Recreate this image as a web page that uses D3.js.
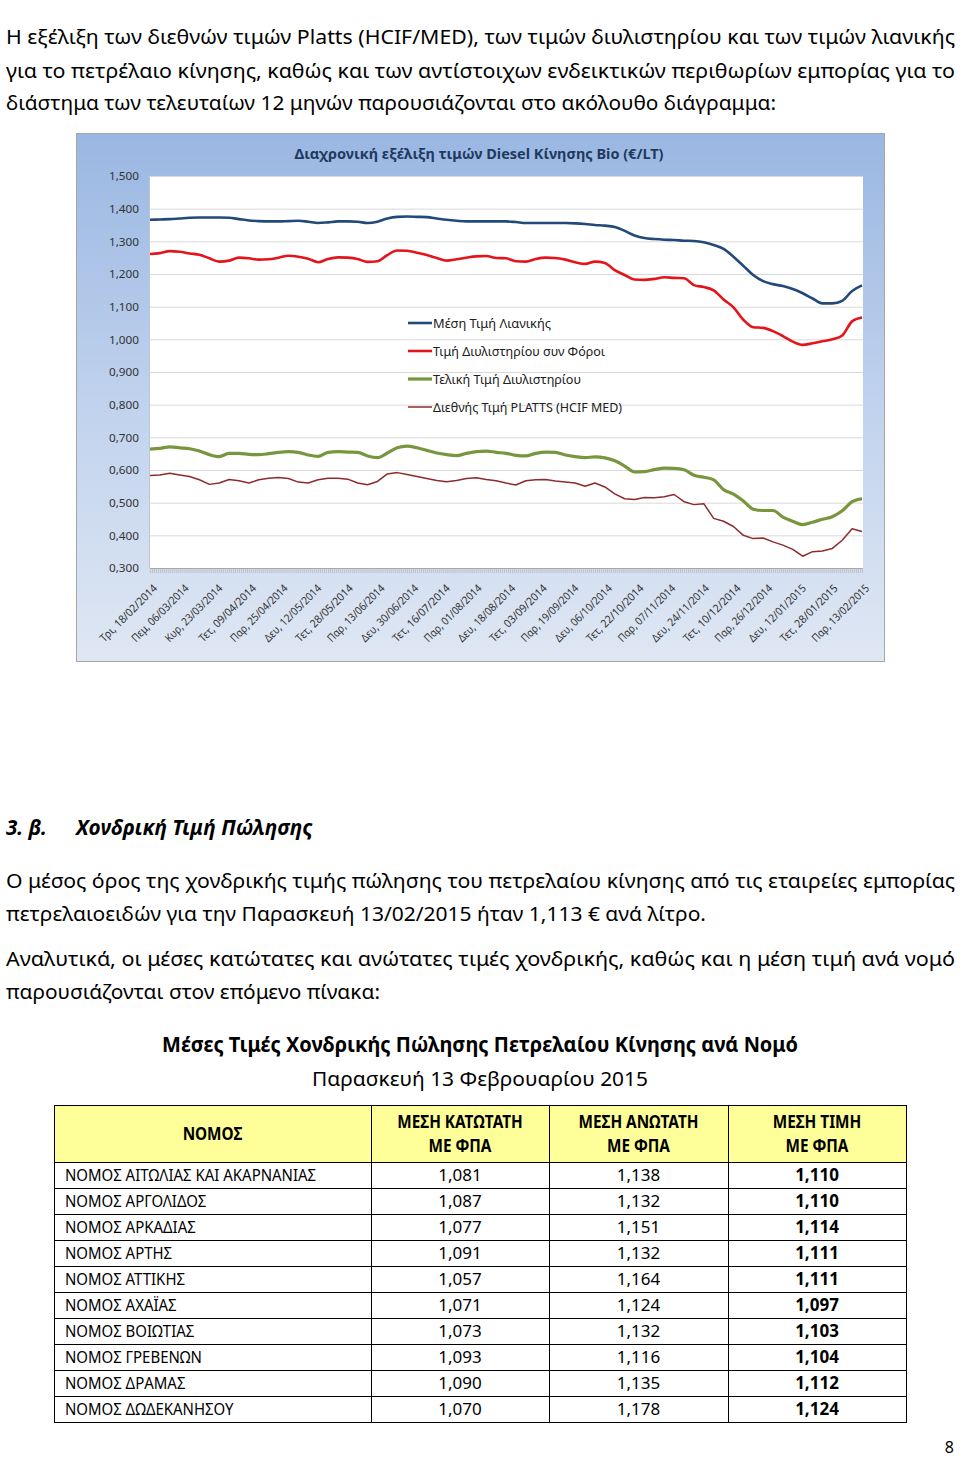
<!DOCTYPE html>
<html><head><meta charset="utf-8">
<script src="https://cdn.jsdelivr.net/npm/d3@7"></script>
<style>body{margin:0;background:#fff} svg{display:block}</style>
</head><body>
<svg id="page" width="960" height="1459"></svg>
<script>
// ---------- DATA ----------
const sampleDates = ["2014-02-18","2014-02-23","2014-02-28","2014-03-05","2014-03-10","2014-03-15","2014-03-20","2014-03-25","2014-03-30","2014-04-04","2014-04-09","2014-04-14","2014-04-19","2014-04-24","2014-04-29","2014-05-04","2014-05-09","2014-05-14","2014-05-19","2014-05-24","2014-05-29","2014-06-03","2014-06-08","2014-06-13","2014-06-18","2014-06-23","2014-06-28","2014-07-03","2014-07-08","2014-07-13","2014-07-18","2014-07-23","2014-07-28","2014-08-02","2014-08-07","2014-08-12","2014-08-17","2014-08-22","2014-08-27","2014-09-01","2014-09-06","2014-09-11","2014-09-16","2014-09-21","2014-09-26","2014-10-01","2014-10-06","2014-10-11","2014-10-16","2014-10-21","2014-10-26","2014-10-31","2014-11-05","2014-11-10","2014-11-15","2014-11-20","2014-11-25","2014-11-30","2014-12-05","2014-12-10","2014-12-15","2014-12-20","2014-12-25","2014-12-30","2015-01-04","2015-01-09","2015-01-14","2015-01-19","2015-01-24","2015-01-29","2015-02-03","2015-02-08","2015-02-13"];

const retailPrice = [1.366,1.367,1.368,1.370,1.372,1.373,1.373,1.373,1.372,1.368,1.364,1.362,1.361,1.361,1.362,1.363,1.360,1.356,1.358,1.361,1.361,1.360,1.356,1.360,1.370,1.375,1.376,1.375,1.374,1.370,1.366,1.363,1.361,1.361,1.361,1.361,1.361,1.359,1.356,1.356,1.356,1.356,1.356,1.355,1.353,1.350,1.348,1.344,1.332,1.318,1.310,1.307,1.305,1.304,1.302,1.301,1.297,1.289,1.277,1.253,1.225,1.197,1.178,1.169,1.163,1.154,1.141,1.125,1.110,1.110,1.118,1.148,1.165];

const refineryWithTax = [1.261,1.264,1.270,1.268,1.263,1.259,1.248,1.238,1.241,1.250,1.248,1.244,1.245,1.250,1.256,1.253,1.247,1.236,1.246,1.251,1.250,1.246,1.237,1.239,1.258,1.272,1.271,1.265,1.258,1.249,1.241,1.245,1.250,1.254,1.255,1.249,1.248,1.239,1.238,1.246,1.250,1.249,1.244,1.236,1.231,1.238,1.234,1.212,1.197,1.183,1.182,1.185,1.190,1.188,1.187,1.166,1.160,1.150,1.122,1.098,1.060,1.037,1.035,1.025,1.010,0.993,0.983,0.988,0.994,1.000,1.012,1.055,1.067];

const refineryFinal = [0.664,0.666,0.671,0.668,0.665,0.658,0.647,0.641,0.651,0.651,0.648,0.647,0.650,0.654,0.656,0.654,0.646,0.642,0.654,0.656,0.655,0.654,0.643,0.638,0.652,0.668,0.673,0.668,0.660,0.652,0.647,0.644,0.651,0.656,0.658,0.654,0.651,0.645,0.643,0.651,0.655,0.654,0.646,0.641,0.638,0.640,0.637,0.628,0.612,0.594,0.595,0.601,0.606,0.605,0.601,0.584,0.578,0.570,0.540,0.526,0.505,0.480,0.476,0.476,0.456,0.443,0.433,0.440,0.449,0.457,0.475,0.503,0.512];

const plattsPrice = [0.583,0.585,0.590,0.585,0.580,0.570,0.556,0.560,0.571,0.567,0.560,0.570,0.575,0.577,0.574,0.563,0.560,0.570,0.575,0.575,0.572,0.560,0.555,0.565,0.588,0.592,0.586,0.580,0.574,0.568,0.564,0.568,0.574,0.576,0.571,0.567,0.560,0.554,0.567,0.570,0.571,0.566,0.563,0.560,0.550,0.560,0.548,0.527,0.512,0.510,0.516,0.515,0.518,0.525,0.503,0.494,0.497,0.452,0.443,0.427,0.400,0.390,0.392,0.380,0.370,0.357,0.336,0.350,0.352,0.360,0.385,0.420,0.412];

const seriesNames = ["Μέση Τιμή Λιανικής","Τιμή Διυλιστηρίου συν Φόροι","Τελική Τιμή Διυλιστηρίου","Διεθνής Τιμή PLATTS (HCIF MED)"];
const yTickValues = [0.3,0.4,0.5,0.6,0.7,0.8,0.9,1.0,1.1,1.2,1.3,1.4,1.5];
const xTickLabels = ["Τρι, 18/02/2014","Πεμ, 06/03/2014","Κυρ, 23/03/2014","Τετ, 09/04/2014","Παρ, 25/04/2014","Δευ, 12/05/2014","Τετ, 28/05/2014","Παρ, 13/06/2014","Δευ, 30/06/2014","Τετ, 16/07/2014","Παρ, 01/08/2014","Δευ, 18/08/2014","Τετ, 03/09/2014","Παρ, 19/09/2014","Δευ, 06/10/2014","Τετ, 22/10/2014","Παρ, 07/11/2014","Δευ, 24/11/2014","Τετ, 10/12/2014","Παρ, 26/12/2014","Δευ, 12/01/2015","Τετ, 28/01/2015","Παρ, 13/02/2015"];

const prefectures = ["ΝΟΜΟΣ ΑΙΤΩΛΙΑΣ ΚΑΙ ΑΚΑΡΝΑΝΙΑΣ","ΝΟΜΟΣ ΑΡΓΟΛΙΔΟΣ","ΝΟΜΟΣ ΑΡΚΑΔΙΑΣ","ΝΟΜΟΣ ΑΡΤΗΣ","ΝΟΜΟΣ ΑΤΤΙΚΗΣ","ΝΟΜΟΣ ΑΧΑΪΑΣ","ΝΟΜΟΣ ΒΟΙΩΤΙΑΣ","ΝΟΜΟΣ ΓΡΕΒΕΝΩΝ","ΝΟΜΟΣ ΔΡΑΜΑΣ","ΝΟΜΟΣ ΔΩΔΕΚΑΝΗΣΟΥ"];
const minPrices = [1.081,1.087,1.077,1.091,1.057,1.071,1.073,1.093,1.090,1.070];
const maxPrices = [1.138,1.132,1.151,1.132,1.164,1.124,1.132,1.116,1.135,1.178];
const avgPrices = [1.110,1.110,1.114,1.111,1.111,1.097,1.103,1.104,1.112,1.124];
const tableHeaders = [["ΝΟΜΟΣ"],["ΜΕΣΗ ΚΑΤΩΤΑΤΗ","ΜΕ ΦΠΑ"],["ΜΕΣΗ ΑΝΩΤΑΤΗ","ΜΕ ΦΠΑ"],["ΜΕΣΗ ΤΙΜΗ","ΜΕ ΦΠΑ"]];

// ---------- PAGE ----------
const FONT = "'Noto Sans', 'Open Sans', sans-serif";
const svg = d3.select("#page");
svg.append("rect").attr("width",960).attr("height",1459).attr("fill","#fff");

function txt(parent, s, x, y, opts={}) {
  const t = parent.append("text").attr("x",x).attr("y",y).text(s)
    .attr("font-family",FONT).attr("font-size",opts.size||19)
    .attr("fill",opts.fill||"#000");
  if (opts.weight) t.attr("font-weight",opts.weight);
  if (opts.style) t.attr("font-style",opts.style);
  if (opts.anchor) t.attr("text-anchor",opts.anchor);
  if (opts.width) t.attr("textLength",opts.width).attr("lengthAdjust","spacingAndGlyphs");
  else if (opts.condense) {
    const w = t.node().getComputedTextLength();
    t.attr("textLength",w*opts.condense).attr("lengthAdjust","spacingAndGlyphs");
  }
  return t;
}

// Intro paragraph
txt(svg,"Η εξέλιξη των διεθνών τιμών Platts (HCIF/MED), των τιμών διυλιστηρίου και των τιμών λιανικής",6,44,{size:19.5,width:949});
txt(svg,"για το πετρέλαιο κίνησης, καθώς και των αντίστοιχων ενδεικτικών περιθωρίων εμπορίας για το",6,78,{size:19.5,width:949});
txt(svg,"διάστημα των τελευταίων 12 μηνών παρουσιάζονται στο ακόλουθο διάγραμμα:",6,110,{size:19.5,width:770});

// ---------- CHART ----------
const box = {x:76,y:133,w:808,h:528};
const defs = svg.append("defs");
const grad = defs.append("linearGradient").attr("id","bg").attr("x1",0).attr("y1",0).attr("x2",0).attr("y2",1);
grad.append("stop").attr("offset","0%").attr("stop-color","#9ab7e2");
grad.append("stop").attr("offset","55%").attr("stop-color","#c3d4ee");
grad.append("stop").attr("offset","100%").attr("stop-color","#dfe7f3");
svg.append("rect").attr("x",box.x+0.5).attr("y",box.y+0.5).attr("width",box.w).attr("height",box.h)
  .attr("fill","url(#bg)").attr("stroke","#a5a5a5").attr("stroke-width",1);

const plot = {l:149,r:863,t:176,b:568};
svg.append("rect").attr("x",plot.l).attr("y",plot.t).attr("width",plot.r-plot.l).attr("height",plot.b-plot.t).attr("fill","#fff");

const parse = d3.timeParse("%Y-%m-%d");
const dts = sampleDates.map(parse);
const x = d3.scaleTime().domain([dts[0], dts[dts.length-1]]).range([150,862]);
const y = d3.scaleLinear().domain([0.3,1.5]).range([plot.b, plot.t]);
const fmt = v => d3.format(".3f")(v).replace(".",",");

// gridlines
svg.append("g").selectAll("line").data(yTickValues.filter(v=>v>0.3)).join("line")
  .attr("x1",plot.l).attr("x2",plot.r).attr("y1",d=>y(d)+0.5).attr("y2",d=>y(d)+0.5)
  .attr("stroke","#d9d9d9").attr("stroke-width",1);

// y axis labels
const yAxis = d3.axisLeft(y).tickValues(yTickValues).tickFormat(fmt).tickSize(0).tickPadding(10);
const yg = svg.append("g").attr("transform",`translate(${plot.l},0)`).call(yAxis);
yg.select(".domain").attr("stroke","#b9c7dc");
yg.selectAll("text").attr("font-family",FONT).attr("font-size",11.5).attr("fill","#333")
  .attr("textLength",30).attr("lengthAdjust","spacingAndGlyphs");

// x axis: daily tick marks
const xAxis = d3.axisBottom(x).ticks(d3.timeDay.every(1)).tickFormat("").tickSizeInner(5).tickSizeOuter(0);
const xg = svg.append("g").attr("transform",`translate(0,${plot.b})`).call(xAxis);
xg.select(".domain").attr("stroke","#a6a6a6");
xg.selectAll(".tick line").attr("stroke","#b0b0b0").attr("stroke-width",0.6);

// x labels
const lblParse = d3.timeParse("%d/%m/%Y");
svg.append("g").selectAll("text").data(xTickLabels).join("text")
  .attr("transform",d=>`translate(${x(lblParse(d.split(", ")[1]))+8},${plot.b+21}) rotate(-45)`)
  .attr("text-anchor","end").attr("font-family",FONT).attr("font-size",11).attr("fill","#333")
  .attr("textLength",76).attr("lengthAdjust","spacingAndGlyphs")
  .text(d=>d);

// lines
const series = [
  {name:seriesNames[0], values:retailPrice, color:"#22497a", w:2.6, curve:d3.curveMonotoneX},
  {name:seriesNames[1], values:refineryWithTax, color:"#e3151b", w:2.6, curve:d3.curveMonotoneX},
  {name:seriesNames[2], values:refineryFinal, color:"#77963d", w:3.2, curve:d3.curveMonotoneX},
  {name:seriesNames[3], values:plattsPrice, color:"#8e2b2e", w:1.5, curve:d3.curveLinear}
];
series.forEach(s=>{
  const line = d3.line().x((d,i)=>x(dts[i])).y(d=>y(d)).curve(s.curve);
  svg.append("path").datum(s.values).attr("d",line).attr("fill","none")
    .attr("stroke",s.color).attr("stroke-width",s.w).attr("stroke-linejoin","round");
});

// legend
const legendY = [323,351,379,407];
const legendW = [118,172,148,189];
series.forEach((s,i)=>{
  svg.append("line").attr("x1",408).attr("x2",432).attr("y1",legendY[i]).attr("y2",legendY[i])
    .attr("stroke",s.color).attr("stroke-width",s.w);
  txt(svg,s.name,433,legendY[i]+4.5,{size:12.5,fill:"#202020",width:legendW[i]});
});

// title
txt(svg,"Διαχρονική εξέλιξη τιμών Diesel Κίνησης Bio (€/LT)",479,159,{size:15,weight:"bold",fill:"#1f3a60",anchor:"middle",width:369});

// ---------- SECTION 3.β ----------
txt(svg,"3. β.",6,835,{size:20.5,weight:"bold",style:"italic",width:41});
txt(svg,"Χονδρική Τιμή Πώλησης",76,835,{size:20.5,weight:"bold",style:"italic",width:237});

txt(svg,"Ο μέσος όρος της χονδρικής τιμής πώλησης του πετρελαίου κίνησης από τις εταιρείες εμπορίας",6,888,{size:19.5,width:949});
txt(svg,"πετρελαιοειδών για την Παρασκευή 13/02/2015 ήταν 1,113 € ανά λίτρο.",6,921,{size:19.5,width:700});
txt(svg,"Αναλυτικά, οι μέσες κατώτατες και ανώτατες τιμές χονδρικής, καθώς και η μέση τιμή ανά νομό",6,966,{size:19.5,width:949});
txt(svg,"παρουσιάζονται στον επόμενο πίνακα:",6,999,{size:19.5,width:374});

txt(svg,"Μέσες Τιμές Χονδρικής Πώλησης Πετρελαίου Κίνησης ανά Νομό",480,1052,{size:20.5,weight:"bold",anchor:"middle",width:636});
txt(svg,"Παρασκευή 13 Φεβρουαρίου 2015",480,1086,{size:20.5,anchor:"middle",width:336});

// ---------- TABLE ----------
const colX = [54,371,549,728,906];
const headTop = 1105, headBot = 1162, rowH = 26;
const tb = svg.append("g");
tb.append("rect").attr("x",colX[0]).attr("y",headTop).attr("width",colX[4]-colX[0]).attr("height",headBot-headTop).attr("fill","#ffff99");
const tableBot = headBot + rowH*prefectures.length;
const hLines = [headTop, headBot].concat(prefectures.map((p,i)=>headBot+rowH*(i+1)));
tb.selectAll("line.h").data(hLines).join("line").attr("class","h")
  .attr("x1",colX[0]).attr("x2",colX[4]+1).attr("y1",d=>d+0.5).attr("y2",d=>d+0.5)
  .attr("stroke","#000").attr("stroke-width",1);
tb.selectAll("line.v").data(colX).join("line").attr("class","v")
  .attr("x1",d=>d+0.5).attr("x2",d=>d+0.5).attr("y1",headTop).attr("y2",tableBot+1)
  .attr("stroke","#000").attr("stroke-width",1);

tableHeaders.forEach((h,i)=>{
  const cx = (colX[i]+colX[i+1])/2;
  if (h.length===1) txt(tb,h[0],cx,1140,{size:17,weight:"bold",anchor:"middle",condense:0.9});
  else {
    txt(tb,h[0],cx,1128,{size:17,weight:"bold",anchor:"middle",condense:0.9});
    txt(tb,h[1],cx,1152,{size:17,weight:"bold",anchor:"middle",condense:0.9});
  }
});
prefectures.forEach((p,i)=>{
  const by = headBot + rowH*i + 19;
  txt(tb,p,65,by,{size:17,condense:0.88});
  txt(tb,fmt(minPrices[i]),(colX[1]+colX[2])/2,by,{size:17,anchor:"middle"});
  txt(tb,fmt(maxPrices[i]),(colX[2]+colX[3])/2,by,{size:17,anchor:"middle"});
  txt(tb,fmt(avgPrices[i]),(colX[3]+colX[4])/2,by,{size:17,weight:"bold",anchor:"middle"});
});

txt(svg,"8",954,1453,{size:16,anchor:"end"});
</script>
</body></html>
